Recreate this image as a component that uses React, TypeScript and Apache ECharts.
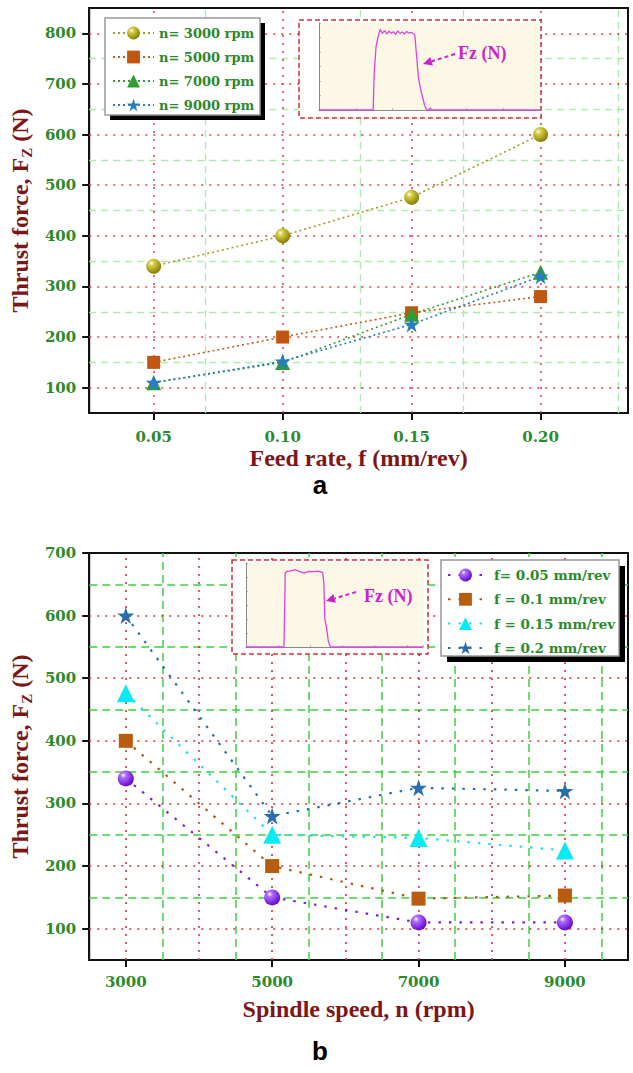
import React, { useEffect, useRef } from 'react';
import * as echarts from 'echarts';

// ---------- data: chart a ----------
const feedRates = [0.05, 0.10, 0.15, 0.20];
const thrustN3000 = [340, 400, 476, 600];
const thrustN5000 = [150, 200, 248, 280];
const thrustN7000 = [110, 150, 245, 328];
const thrustN9000 = [110, 152, 225, 320];
const seriesNamesA = ['n= 3000 rpm', 'n= 5000 rpm', 'n= 7000 rpm', 'n= 9000 rpm'];
const yTicksA = [100, 200, 300, 400, 500, 600, 700, 800];
const yMinorA = [150, 250, 350, 450, 550, 650, 750];
const xMinorA = [0.075, 0.125, 0.175, 0.225];

// ---------- data: chart b ----------
const spindleSpeeds = [3000, 5000, 7000, 9000];
const thrustF005 = [340, 150, 110, 110];
const thrustF01 = [400, 200, 148, 153];
const thrustF015 = [476, 250, 245, 225];
const thrustF02 = [600, 280, 325, 320];
const seriesNamesB = ['f= 0.05 mm/rev', 'f = 0.1 mm/rev', 'f = 0.15 mm/rev', 'f = 0.2 mm/rev'];
const yTicksB = [100, 200, 300, 400, 500, 600, 700];
const yMajorGridB = [100, 200, 300, 400, 500, 600];
const yMinorB = [150, 250, 350, 450, 550, 650];
const xMajorB = [3000, 4000, 5000, 6000, 7000, 8000, 9000];
const xMinorB = [3500, 4500, 5500, 6500, 7500, 8500, 9500];

// ---------- inset signals (Fz vs time) ----------
const insetATime = [0, 1.47, 1.5, 1.55, 1.6, 1.66, 1.72, 1.78, 1.84, 1.9, 1.96, 2.02, 2.08, 2.14, 2.2, 2.26, 2.32, 2.38, 2.44, 2.5, 2.56, 2.6, 2.64, 2.7, 2.78, 2.86, 2.92, 3.0, 3.02, 3.05, 6.0];
const insetAForce = [0, 0, 1300, 2200, 2500, 2780, 2640, 2740, 2620, 2720, 2650, 2700, 2610, 2730, 2640, 2690, 2620, 2710, 2650, 2680, 2630, 2600, 2000, 1100, 600, 200, 0, 0, 80, 0, 0];
const insetBTime = [0, 1.18, 1.22, 1.28, 1.4, 1.55, 1.65, 1.8, 1.95, 2.1, 2.25, 2.38, 2.42, 2.45, 2.5, 2.56, 2.62, 5.5];
const insetBForce = [0, 0, 2650, 2700, 2720, 2760, 2700, 2640, 2700, 2690, 2710, 2660, 2300, 1000, 700, 200, 0, 0];

const RED_A = { color: '#e8383d', width: 1.5, type: [2, 6] };
const GREEN_A = { color: '#a8eea8', width: 1.3, type: [7, 5] };
const RED_B = { color: '#dd3030', width: 1.6, type: [2, 6] };
const GREEN_B = { color: '#3fcf3f', width: 1.5, type: [8, 5] };

const LABEL_GREEN = '#2b8a2b';
const TITLE_RED = '#7d1616';
const STAR = 'path://M50,2 L61.8,37.6 L99,37.6 L69,59.6 L80.4,95 L50,73 L19.6,95 L31,59.6 L1,37.6 L38.2,37.6 Z';

function sphere(light: string, dark: string) {
  return new echarts.graphic.RadialGradient(0.35, 0.3, 0.75, [
    { offset: 0, color: '#ffffff' },
    { offset: 0.22, color: light },
    { offset: 1, color: dark },
  ]);
}

function gridLineSeries(idx: number, xsRed: number[], xsGreen: number[], ysRed: number[], ysGreen: number[], red: any, green: any) {
  return {
    type: 'line',
    xAxisIndex: idx,
    yAxisIndex: idx,
    data: [],
    z: 1,
    silent: true,
    markLine: {
      silent: true,
      animation: false,
      symbol: ['none', 'none'],
      label: { show: false },
      emphasis: { disabled: true },
      data: [
        ...xsGreen.map((v) => ({ xAxis: v, lineStyle: green })),
        ...ysGreen.map((v) => ({ yAxis: v, lineStyle: green })),
        ...xsRed.map((v) => ({ xAxis: v, lineStyle: red })),
        ...ysRed.map((v) => ({ yAxis: v, lineStyle: red })),
      ],
    },
  };
}

const tickFont = { fontFamily: 'DejaVu Serif', fontWeight: 'bold', fontSize: 15, color: LABEL_GREEN };
const titleFont = { fontFamily: 'Liberation Serif', fontWeight: 'bold', fontSize: 24, color: TITLE_RED };
const yName = '{t|Thrust force, F}{s|Z}{t| (N)}';
const yNameStyle = {
  rich: {
    t: { ...titleFont, lineHeight: 28 },
    s: { ...titleFont, fontSize: 15, lineHeight: 15, verticalAlign: 'bottom' },
  },
};
const blackLine = { color: '#111', width: 2 };

function mainX(gridIndex: number, min: number, max: number, ticks: number[], fmt: (v: number) => string, name: string, margin: number, nameGap: number) {
  return {
    type: 'value', gridIndex, min, max,
    axisLine: { show: true, onZero: false, lineStyle: blackLine },
    axisTick: { show: true, customValues: ticks, length: 7, inside: false, lineStyle: blackLine },
    axisLabel: { show: true, customValues: ticks, formatter: fmt, margin, ...tickFont },
    splitLine: { show: false },
    name, nameLocation: 'middle', nameGap, nameTextStyle: { ...titleFont, lineHeight: 24 },
  };
}
function mainY(gridIndex: number, min: number, max: number, ticks: number[], nameGap: number) {
  return {
    type: 'value', gridIndex, min, max,
    axisLine: { show: true, onZero: false, lineStyle: blackLine },
    axisTick: { show: true, customValues: ticks, length: 7, inside: false, lineStyle: blackLine },
    axisLabel: { show: true, customValues: ticks, margin: 13, ...tickFont },
    splitLine: { show: false },
    name: yName, nameLocation: 'middle', nameGap, nameTextStyle: yNameStyle,
  };
}
function insetAxis(gridIndex: number, min: number, max: number, interval: number) {
  return {
    type: 'value', gridIndex, min, max, interval, z: 60,
    axisLine: { show: true, onZero: false, lineStyle: { color: '#888', width: 1 } },
    axisTick: { show: true, inside: true, length: 2, lineStyle: { color: '#888', width: 0.6 } },
    axisLabel: { show: false },
    splitLine: { show: false },
  };
}

function dataSeries(name: string, xs: number[], ys: number[], idx: number, color: string, symbol: string, size: number, fill: any, dash: number[], width: number) {
  return {
    type: 'line', name, xAxisIndex: idx, yAxisIndex: idx, z: 10,
    data: xs.map((x, i) => [x, ys[i]]),
    symbol, symbolSize: size,
    lineStyle: { color, width, type: dash },
    itemStyle: { color: fill, borderColor: fill, borderWidth: 0 },
  };
}

function insetSeries(xs: number[], ys: number[], idx: number) {
  return {
    type: 'line', xAxisIndex: idx, yAxisIndex: idx, z: 70, silent: true,
    data: xs.map((x, i) => [x, ys[i]]),
    symbol: 'none',
    lineStyle: { color: '#e040e0', width: 1.3 },
  };
}

function arrow(x1: number, y1: number, x2: number, y2: number) {
  const dx = x2 - x1, dy = y2 - y1;
  const len = Math.sqrt(dx * dx + dy * dy);
  const ux = dx / len, uy = dy / len;
  const bx = x2 - ux * 9, by = y2 - uy * 9;
  const px = -uy * 4.5, py = ux * 4.5;
  return [
    { type: 'line', z: 80, shape: { x1, y1, x2: bx, y2: by }, style: { stroke: '#cc22cc', lineWidth: 2, lineDash: [4, 3] } },
    { type: 'polygon', z: 80, shape: { points: [[x2, y2], [bx + px, by + py], [bx - px, by - py]] }, style: { fill: '#cc22cc' } },
  ];
}

const legendText = { fontFamily: 'DejaVu Serif', fontWeight: 'bold', fontSize: 13, color: LABEL_GREEN, lineHeight: 16 };

const option: any = {
  animation: false,
  backgroundColor: '#ffffff',
  grid: [
    { left: 89, top: 8, width: 539, height: 405, show: true, borderColor: '#111', borderWidth: 2, backgroundColor: 'transparent' },
    { left: 319, top: 23, width: 221, height: 87 },
    { left: 88, top: 553, width: 540, height: 407, show: true, borderColor: '#111', borderWidth: 2, backgroundColor: 'transparent' },
    { left: 246, top: 563, width: 177, height: 84 },
  ],
  xAxis: [
    mainX(0, 0.025, 0.2339, feedRates, (v) => v.toFixed(2), 'Feed rate, f (mm/rev)', 16, 33),
    insetAxis(1, 0, 6, 1),
    mainX(2, 2500, 9862, spindleSpeeds, (v) => String(v), 'Spindle speed, n (rpm)', 14, 37),
    insetAxis(3, 0, 5.5, 1),
  ],
  yAxis: [
    mainY(0, 50, 850, yTicksA, 55),
    insetAxis(1, 0, 3000, 500),
    mainY(2, 50, 700, yTicksB, 55),
    insetAxis(3, 0, 3000, 500),
  ],
  legend: [
    {
      orient: 'vertical', left: 112, top: 25, padding: 0, itemWidth: 41, itemHeight: 16, itemGap: 8, z: 60,
      data: seriesNamesA, textStyle: legendText, selectedMode: false,
    },
    {
      orient: 'vertical', left: 447, top: 567, padding: 0, itemWidth: 35, itemHeight: 16, itemGap: 8.3, z: 60,
      data: seriesNamesB, textStyle: { ...legendText, fontSize: 13.5, padding: [0, 0, 0, 6] }, selectedMode: false,
    },
  ],
  graphic: [
    // legend a box
    { type: 'rect', z: 50, shape: { x: 110, y: 23, width: 155, height: 97 }, style: { fill: '#000' } },
    { type: 'rect', z: 51, shape: { x: 105, y: 18, width: 155, height: 97 }, style: { fill: '#fff', stroke: '#999', lineWidth: 1.5 } },
    // legend b box
    { type: 'rect', z: 50, shape: { x: 447, y: 566, width: 178, height: 96 }, style: { fill: '#000' } },
    { type: 'rect', z: 51, shape: { x: 441, y: 560, width: 178, height: 96 }, style: { fill: '#fff', stroke: '#999', lineWidth: 1.5 } },
    // inset a frame
    { type: 'rect', z: 50, shape: { x: 299, y: 20, width: 242, height: 98 }, style: { fill: '#fff', stroke: '#d03030', lineWidth: 1.5, lineDash: [5, 3] } },
    { type: 'rect', z: 51, shape: { x: 319, y: 23, width: 221, height: 87 }, style: { fill: '#fdf8e6' } },
    // inset b frame
    { type: 'rect', z: 50, shape: { x: 232, y: 560, width: 196, height: 94 }, style: { fill: '#fff', stroke: '#d03030', lineWidth: 1.5, lineDash: [5, 3] } },
    { type: 'rect', z: 51, shape: { x: 246, y: 563, width: 177, height: 84 }, style: { fill: '#fdf8e6' } },
    // Fz labels + arrows
    { type: 'text', z: 80, style: { x: 458, y: 53, text: 'Fz (N)', fill: '#cc22cc', font: 'bold 18px "Liberation Serif"', textVerticalAlign: 'middle' } },
    ...arrow(455, 54, 423, 64),
    { type: 'text', z: 80, style: { x: 364, y: 596, text: 'Fz (N)', fill: '#cc22cc', font: 'bold 18px "Liberation Serif"', textVerticalAlign: 'middle' } },
    ...arrow(356, 592, 326, 601),
    // panel letters
    { type: 'text', z: 80, style: { x: 320, y: 485, text: 'a', fill: '#000', font: 'bold 26px "Liberation Sans"', textAlign: 'center', textVerticalAlign: 'middle' } },
    { type: 'text', z: 80, style: { x: 320, y: 1051, text: 'b', fill: '#000', font: 'bold 26px "Liberation Sans"', textAlign: 'center', textVerticalAlign: 'middle' } },
  ],
  series: [
    gridLineSeries(0, feedRates, xMinorA, yTicksA, yMinorA, RED_A, GREEN_A),
    gridLineSeries(2, xMajorB, xMinorB, yMajorGridB, yMinorB, RED_B, GREEN_B),
    dataSeries(seriesNamesA[0], feedRates, thrustN3000, 0, '#a39c1e', 'circle', 15, sphere('#d8d24a', '#7e7800'), [2, 3], 1.6),
    dataSeries(seriesNamesA[1], feedRates, thrustN5000, 0, '#c45a14', 'rect', 13, '#c0560f', [2, 3], 1.6),
    dataSeries(seriesNamesA[2], feedRates, thrustN7000, 0, '#2e9e2e', 'triangle', 15, '#2e9e2e', [2, 3], 1.6),
    dataSeries(seriesNamesA[3], feedRates, thrustN9000, 0, '#2a7cc0', STAR, 16, '#2a7cc0', [2, 3], 1.6),
    dataSeries(seriesNamesB[0], spindleSpeeds, thrustF005, 2, '#7a20d8', 'circle', 16, sphere('#b070ff', '#6000c8'), [2.5, 8], 2.2),
    dataSeries(seriesNamesB[1], spindleSpeeds, thrustF01, 2, '#a85a1a', 'rect', 14, '#b85c10', [2.5, 8], 2.2),
    dataSeries(seriesNamesB[2], spindleSpeeds, thrustF015, 2, '#20e0ee', 'triangle', 18, '#08eaf4', [2.5, 8], 2.2),
    dataSeries(seriesNamesB[3], spindleSpeeds, thrustF02, 2, '#2a6eaa', STAR, 17, '#2a6eaa', [2.5, 8], 2.2),
    insetSeries(insetATime, insetAForce, 1),
    insetSeries(insetBTime, insetBForce, 3),
  ],
};

export default function App() {
  const ref = useRef<HTMLDivElement>(null);
  useEffect(() => {
    const chart = echarts.init(ref.current as HTMLDivElement, null, { renderer: 'svg' });
    chart.setOption(option);
    return () => chart.dispose();
  }, []);
  return (
    <div
      ref={ref}
      style={{ position: 'fixed', left: 0, top: 0, width: 633, height: 1073, background: '#fff' }}
    />
  );
}
